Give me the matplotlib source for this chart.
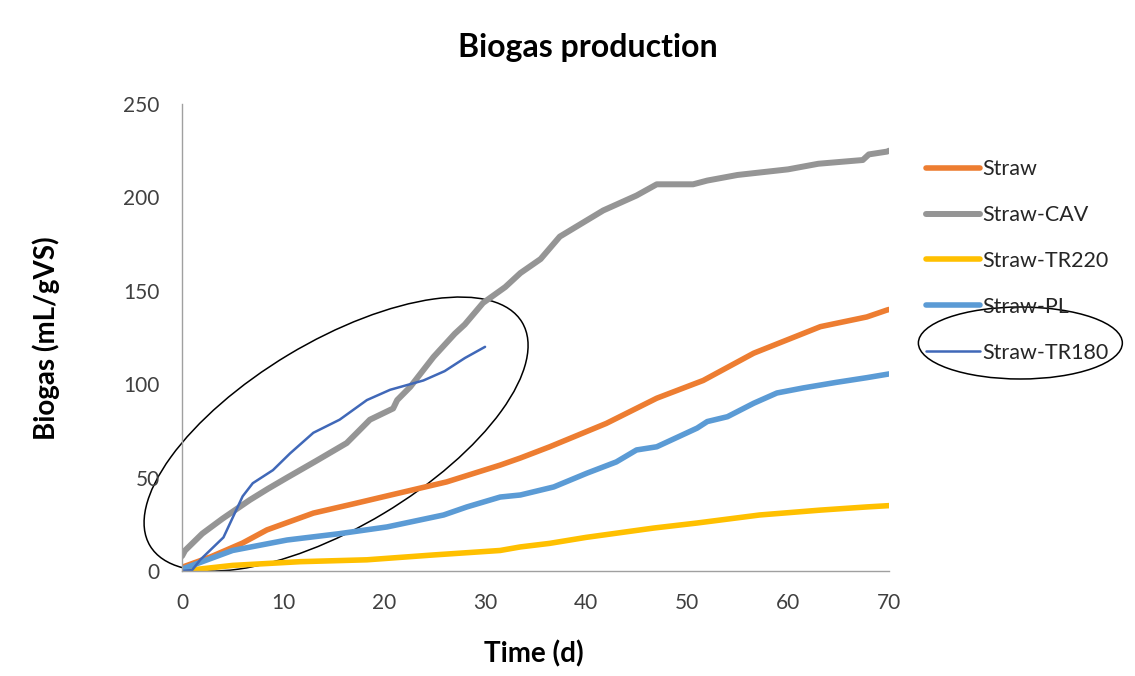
import matplotlib
matplotlib.use("Agg")
import matplotlib.pyplot as plt
from matplotlib.patches import Ellipse
from matplotlib import transforms

plt.rcParams['font.family'] = ['Lato', 'DejaVu Sans']

# Straw
straw_x = [0, 2.8, 6, 8.4, 13, 17, 20.6, 26.2, 31.5, 33.5, 36.4, 42, 47, 51.6, 56.6, 63.2, 67.8, 69.8, 70]
straw_y = [2, 7.5, 15, 22, 31, 36, 40.6, 47.7, 56.7, 60.5, 66.5, 79, 92.5, 102, 116.6, 130.8, 136, 139.7, 140]

# Straw-CAV
cav_x = [0, 0.3, 2, 4, 6.7, 8.5, 10.4, 13.3, 16.3, 17.5, 18.6, 20.9, 21.3, 22.6, 24.9, 27, 28, 29.8,
         32, 33.5, 35.5, 37.4, 41.7, 45, 47, 50.6, 52, 55, 60, 63, 67.4, 68, 69.8, 70]
cav_y = [8, 11, 20, 28, 38, 44, 50, 59, 68.5, 75, 81, 87, 91.5, 98.6, 114.6, 127, 132, 143.5,
         152, 159.5, 167, 179, 193, 201, 207, 207, 209, 212, 215, 218, 220, 223, 224.5, 225]

# Straw-TR220
tr220_x = [0, 5, 11.7, 18.3, 24.9, 31.5, 33.5, 36.4, 40, 46.7, 51, 57.2, 63.2, 67.8, 70]
tr220_y = [0, 3, 5, 6, 8.6, 11, 12.9, 14.8, 18, 23, 25.7, 30, 32.6, 34.3, 35]

# Straw-PL
pl_x = [0, 5, 10.4, 15.6, 20.3, 25.9, 28.2, 31.5, 33.5, 36.8, 40.1, 43, 45, 47, 51, 52, 54,
        56.6, 58.9, 61.5, 64.8, 67.8, 70]
pl_y = [1, 11, 16.6, 20, 23.6, 30, 34.3, 39.6, 40.7, 45, 52.4, 58.4, 64.8, 66.5, 76.5, 80, 82.6,
        89.8, 95.3, 98, 101, 103.5, 105.5]

# Straw-TR180
tr180_x = [0, 1, 1.8, 4.1, 6, 7, 9, 10.7, 13, 15.6, 18.3, 20.6, 23.9, 26, 28, 30]
tr180_y = [0, 0.5, 6, 18, 40, 47, 54, 63, 74, 81, 91.5, 97, 102, 107, 114, 120]

fig = plt.figure(figsize=(11.35, 6.76), dpi=100)
ax = fig.add_axes([0.1604, 0.1553, 0.6229, 0.6909])

ax.plot(straw_x, straw_y, color='#ED7D31', lw=4, label='Straw', solid_capstyle='round')
ax.plot(cav_x, cav_y, color='#959595', lw=4.3, label='Straw-CAV', solid_capstyle='round')
ax.plot(tr220_x, tr220_y, color='#FFC000', lw=4, label='Straw-TR220', solid_capstyle='round')
ax.plot(pl_x, pl_y, color='#5B9BD5', lw=4, label='Straw-PL', solid_capstyle='round')
ax.plot(tr180_x, tr180_y, color='#4068B8', lw=1.8, label='Straw-TR180', solid_capstyle='round')

ax.set_xlim(0, 70)
ax.set_ylim(0, 250)
ax.set_xticks(range(0, 71, 10))
ax.set_yticks(range(0, 251, 50))
ax.tick_params(length=0, labelsize=15, labelcolor='#404040')
ax.tick_params(axis='x', pad=16)
ax.tick_params(axis='y', pad=16)
for s in ['top', 'right']:
    ax.spines[s].set_visible(False)
for s in ['left', 'bottom']:
    ax.spines[s].set_color('#A0A0A0')
    ax.spines[s].set_linewidth(1)

ax.set_xlabel('Time (d)', fontsize=20, fontweight='bold')
ax.set_ylabel('Biogas (mL/gVS)', fontsize=20, fontweight='bold')
ax.xaxis.set_label_coords(0.498, -0.148)
ax.yaxis.set_label_coords(-0.1726, 0.499)

fig.text(0.518, 0.930, 'Biogas production', fontsize=23, fontweight='bold', ha='center', va='center')

leg = fig.legend(loc='upper left', bbox_to_anchor=(0.808, 0.777), frameon=False, fontsize=15.5,
                 handlelength=2.5, handletextpad=0.15, labelspacing=1.2, borderaxespad=0)
for t in leg.get_texts():
    t.set_color('#262626')

# hand-drawn highlight ellipses
trans = fig.dpi_scale_trans + transforms.ScaledTranslation(15.25, 73.3, ax.transData)
ax.add_patch(Ellipse((0, 0), 4.34, 1.85, angle=31, transform=trans, fill=False,
                     edgecolor='black', lw=1.1, clip_on=False))
fig.patches.append(Ellipse((0.899, 0.4926), 0.1797, 0.1065, transform=fig.transFigure,
                           fill=False, edgecolor='black', lw=1.1))

fig.savefig('out.png', dpi=100)
